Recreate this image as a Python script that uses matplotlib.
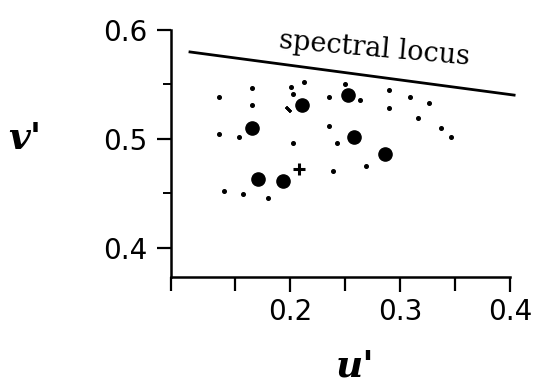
import matplotlib
matplotlib.use("Agg")
import matplotlib.pyplot as plt
from matplotlib.ticker import FixedLocator

# spectral locus (straight segment across the top)
locus_u = [0.108, 0.405]
locus_v = [0.580, 0.540]

# large dots
big_u = [0.253, 0.211, 0.166, 0.258, 0.171, 0.194, 0.286]
big_v = [0.540, 0.531, 0.510, 0.502, 0.463, 0.461, 0.486]

# small dots
small_u = [0.136, 0.166, 0.166, 0.201, 0.213, 0.203, 0.236, 0.250, 0.264,
           0.136, 0.154, 0.203, 0.236, 0.243, 0.239, 0.269, 0.140, 0.157,
           0.180, 0.290, 0.290, 0.309, 0.326, 0.316, 0.337, 0.346]
small_v = [0.538, 0.547, 0.531, 0.548, 0.552, 0.541, 0.538, 0.550, 0.536,
           0.504, 0.502, 0.496, 0.512, 0.496, 0.470, 0.475, 0.452, 0.449,
           0.446, 0.545, 0.528, 0.538, 0.533, 0.519, 0.510, 0.502]

# short slanted dash
dash_u = [0.198]
dash_v = [0.527]

# white point cross
cross_u = [0.208]
cross_v = [0.472]

x_major = [0.2, 0.3, 0.4]
x_minor = [0.092, 0.15, 0.25, 0.35]
y_major = [0.4, 0.5, 0.6]
y_minor = [0.45, 0.55]

fig = plt.figure(figsize=(5.33, 3.86), dpi=100)
ax = fig.add_axes([171 / 533, 1 - 277 / 386, 339 / 533, 247 / 386])

ax.plot(locus_u, locus_v, color="black", lw=2.0, clip_on=False,
        solid_capstyle="butt")
ax.plot(big_u, big_v, "o", color="black", ms=9.5, clip_on=False)
ax.plot(small_u, small_v, "o", color="black", ms=2.6, clip_on=False)
ax.plot(dash_u, dash_v, marker=(2, 2, 45), color="black", ms=5, mew=2,
        ls="none")
ax.plot(cross_u, cross_v, "+", color="black", ms=9, mew=2.2)

ax.text(0.277, 0.583, "spectral locus", rotation=-5, ha="center",
        va="center", fontsize=19.5, family="DejaVu Serif")

ax.set_xlim(0.092, 0.4)
ax.set_ylim(0.373, 0.6)

for s in ["top", "right"]:
    ax.spines[s].set_visible(False)
for s in ["left", "bottom"]:
    ax.spines[s].set_linewidth(1.8)

ax.xaxis.set_major_locator(FixedLocator(x_major))
ax.xaxis.set_minor_locator(FixedLocator(x_minor))
ax.yaxis.set_major_locator(FixedLocator(y_major))
ax.yaxis.set_minor_locator(FixedLocator(y_minor))
ax.set_xticklabels(["0.2", "0.3", "0.4"])
ax.set_yticklabels(["0.4", "0.5", "0.6"])

ax.tick_params(axis="x", which="major", length=11, width=1.6, pad=4,
               labelsize=20)
ax.tick_params(axis="x", which="minor", length=10, width=1.6)
ax.tick_params(axis="y", which="major", length=10, width=1.6, pad=7,
               labelsize=20)
ax.tick_params(axis="y", which="minor", length=6, width=1.4)

ax.set_xlabel("u'", fontsize=27, fontweight="bold", style="italic",
              family="DejaVu Serif", va="bottom")
ax.xaxis.set_label_coords(0.543, -0.435)
ax.set_ylabel("v'", fontsize=27, fontweight="bold", style="italic",
              family="DejaVu Serif", rotation=0, va="center", ha="center")
ax.yaxis.set_label_coords(-0.43, 0.56)

fig.savefig("out.png", dpi=100)
